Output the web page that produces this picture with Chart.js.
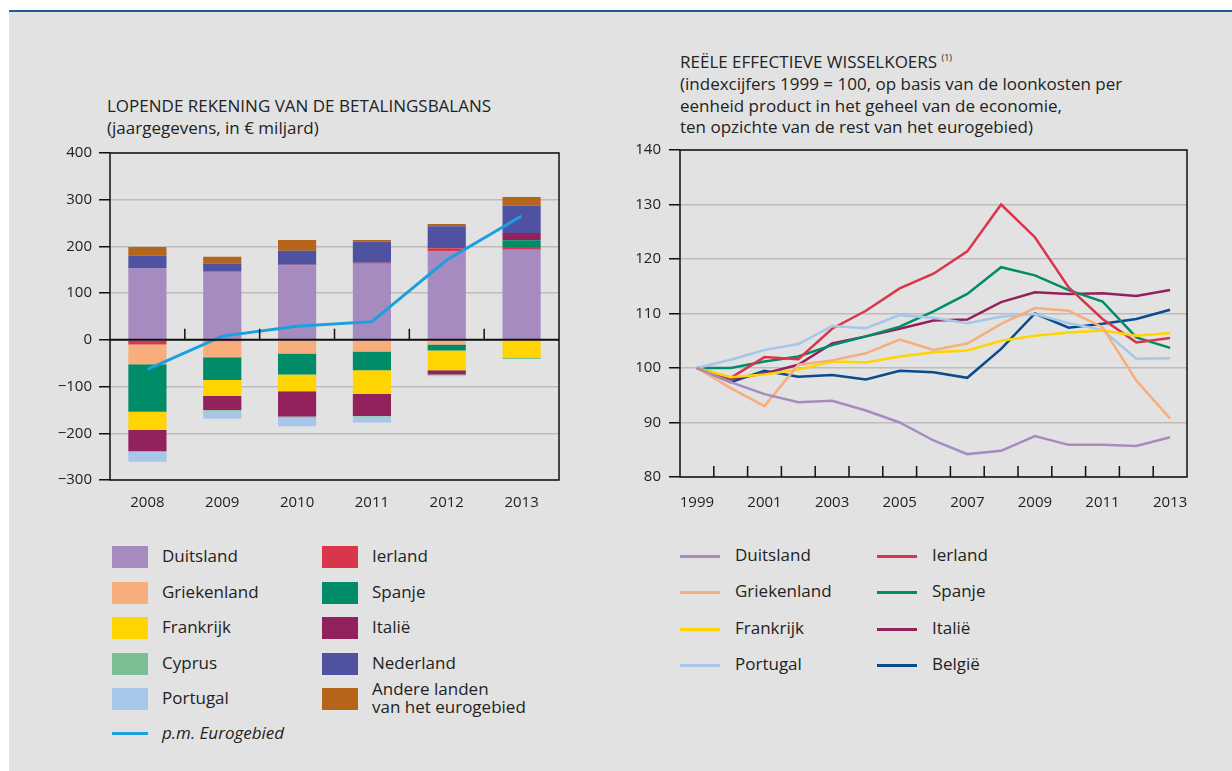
<!DOCTYPE html>
<html lang="nl">
<head>
<meta charset="UTF-8">
<title>Lopende rekening en reële effectieve wisselkoers</title>
<script src="https://cdn.jsdelivr.net/npm/chart.js"></script>
<style>
    body {
        margin: 0;
        width: 1232px;
        height: 771px;
        position: relative;
        overflow: hidden;
        background: #fff;
        font-family: "Open Sans", sans-serif;
        color: #222;
    }
    .panel {
        position: absolute;
        left: 9px; top: 10px; right: 0; bottom: 0;
        background: #e2e2e2;
        border-top: 2px solid #1f5a9a;
    }
    .title {
        position: absolute;
        font-size: 17px;
        line-height: 21.5px;
        white-space: nowrap;
    }
    .title sup { font-size: 9px; }
    .box { position: absolute; }
    .legend { position: absolute; font-size: 17px; }
    .item { position: absolute; white-space: nowrap; line-height: 18px; }
    .sw { position: absolute; width: 36px; height: 22px; }
    .ln { position: absolute; width: 40px; height: 3px; }
</style>
</head>
<body>
<div class="panel"></div>

<div class="title" style="left:107px; top:95px;">LOPENDE REKENING VAN DE BETALINGSBALANS<br>(jaargegevens, in € miljard)</div>
<div class="title" style="left:680px; top:47px;">REËLE EFFECTIEVE WISSELKOERS <sup>(1)</sup></div>
<div class="title" style="left:680px; top:73px;">(indexcijfers 1999 = 100, op basis van de loonkosten per<br>eenheid product in het geheel van de economie,<br>ten opzichte van de rest van het eurogebied)</div>

<div class="box" style="left:50px; top:137px; width:520px; height:393px;"><canvas id="balans"></canvas></div>
<div class="box" style="left:600px; top:133px; width:600px; height:385px;"><canvas id="koers"></canvas></div>

<div class="legend" id="legendLeft"></div>
<div class="legend" id="legendRight"></div>

<script>
// lopende rekening, € miljard
const years = ['2008', '2009', '2010', '2011', '2012', '2013'];
const duitsland = [153, 146, 159, 163, 189, 193];
const ierland = [-10, -3, 2, 2, 7, 6];
const griekenland = [-42, -34, -29, -25, -10, 0];
const spanje = [-102, -49, -45, -40, -13, 14];
const frankrijk = [-39, -34, -36, -51, -42, -39];
const italie = [-45, -30, -54, -47, -9, 16];
const cyprus = [-2, -2, -3, -1, -2, -2];
const portugal = [-21, -17, -18, -13, -2, 0];
const nederland = [27, 17, 30, 45, 47, 58];
const andere = [19, 15, 23, 4, 5, 19];
const eurogebied = [-63, 8, 29, 39, 171, 265];

// reële effectieve wisselkoers, 1999 = 100
const jaren = ['1999', '2000', '2001', '2002', '2003', '2004', '2005', '2006',
               '2007', '2008', '2009', '2010', '2011', '2012', '2013'];
const wkDuitsland = [100, 97.4, 95.2, 93.7, 94.0, 92.2, 90.0, 86.7, 84.2, 84.8, 87.5, 85.9, 85.9, 85.7, 87.3];
const wkGriekenland = [100, 96.3, 93.0, 100.6, 101.4, 102.7, 105.2, 103.3, 104.5, 108.1, 111.0, 110.5, 107.5, 97.7, 90.7];
const wkFrankrijk = [100, 98.3, 98.8, 99.7, 101.2, 101.0, 102.1, 102.9, 103.2, 105.0, 105.9, 106.5, 106.9, 105.9, 106.4];
const wkPortugal = [100, 101.5, 103.3, 104.4, 107.7, 107.3, 109.7, 109.2, 108.2, 109.4, 109.9, 108.2, 107.0, 101.7, 101.8];
const wkIerland = [100, 98.2, 102.0, 101.6, 107.2, 110.5, 114.6, 117.3, 121.4, 130.0, 124.0, 114.8, 109.0, 104.7, 105.5];
const wkSpanje = [100, 100.0, 101.2, 102.1, 104.2, 105.8, 107.6, 110.4, 113.6, 118.5, 117.0, 114.3, 112.2, 105.6, 103.7];
const wkItalie = [100, 98.0, 99.0, 100.6, 104.5, 105.8, 107.2, 108.7, 108.9, 112.1, 113.9, 113.6, 113.7, 113.2, 114.3];
const wkBelgie = [100, 97.4, 99.5, 98.4, 98.7, 97.9, 99.5, 99.2, 98.2, 103.5, 110.0, 107.4, 108.1, 109.0, 110.7];

const C = {
    duitsland: '#a68bc1', griekenland: '#f7ae7c', frankrijk: '#ffd400', cyprus: '#7dbf95',
    portugal: '#a6c6ea', ierland: '#d9364c', spanje: '#008c68', italie: '#93215c',
    nederland: '#4f52a0', andere: '#b5651a', euro: '#1a9fe0', belgie: '#0b4a8c'
};

Chart.defaults.font.family = '"Open Sans", sans-serif';
Chart.defaults.font.size = 15;
Chart.defaults.color = '#222';

// black frame, zero line and inward category ticks
const frame = {
    id: 'frame',
    afterDatasetsDraw(chart, args, opts) {
        const { ctx, chartArea: a, scales: { x, y } } = chart;
        ctx.save();
        ctx.strokeStyle = '#111';
        ctx.lineWidth = 1.5;
        ctx.strokeRect(a.left, a.top, a.right - a.left, a.bottom - a.top);
        let base = a.bottom;
        if (opts.zero) {
            base = y.getPixelForValue(0);
            ctx.lineWidth = 2;
            ctx.beginPath();
            ctx.moveTo(a.left, base);
            ctx.lineTo(a.right, base);
            ctx.stroke();
        }
        ctx.lineWidth = 1.5;
        ctx.beginPath();
        for (let i = 1; i < x.ticks.length; i++) {
            const px = (x.getPixelForTick(i - 1) + x.getPixelForTick(i)) / 2;
            ctx.moveTo(px, base);
            ctx.lineTo(px, base - 11);
        }
        ctx.stroke();
        ctx.restore();
    }
};

function bar(label, data, color) {
    return { type: 'bar', label: label, data: data, backgroundColor: color, stack: 'land', order: 1 };
}

new Chart(document.getElementById('balans'), {
    data: {
        labels: years,
        datasets: [
            { type: 'line', label: 'p.m. Eurogebied', data: eurogebied, borderColor: C.euro,
              borderWidth: 3, pointRadius: 0, tension: 0, stack: 'euro', order: 0 },
            bar('Duitsland', duitsland, C.duitsland),
            bar('Ierland', ierland, C.ierland),
            bar('Griekenland', griekenland, C.griekenland),
            bar('Spanje', spanje, C.spanje),
            bar('Frankrijk', frankrijk, C.frankrijk),
            bar('Italië', italie, C.italie),
            bar('Cyprus', cyprus, C.cyprus),
            bar('Portugal', portugal, C.portugal),
            bar('Nederland', nederland, C.nederland),
            bar('Andere landen van het eurogebied', andere, C.andere)
        ]
    },
    options: {
        responsive: true,
        maintainAspectRatio: false,
        animation: false,
        layout: { padding: { top: 12, right: 11, left: 0, bottom: 0 } },
        datasets: { bar: { categoryPercentage: 1, barPercentage: 0.51 } },
        plugins: { legend: { display: false }, tooltip: { enabled: false }, frame: { zero: true } },
        scales: {
            x: {
                stacked: true,
                grid: { display: false },
                border: { display: false },
                ticks: { padding: 6, maxRotation: 0 },
                afterFit(s) { s.height = 50; }
            },
            y: {
                stacked: true,
                min: -300, max: 400,
                ticks: { stepSize: 100, padding: 7, callback: v => String(v).replace('-', '\u2212') },
                grid: { color: '#bcbcbc', lineWidth: 1.5, tickColor: '#111', tickLength: 11 },
                border: { display: false },
                afterFit(s) { s.width = 60; }
            }
        }
    },
    plugins: [frame]
});

function line(label, data, color) {
    return { label: label, data: data, borderColor: color, borderWidth: 2.5, pointRadius: 0, tension: 0 };
}

new Chart(document.getElementById('koers'), {
    type: 'line',
    data: {
        labels: jaren,
        datasets: [
            line('Duitsland', wkDuitsland, C.duitsland),
            line('Griekenland', wkGriekenland, C.griekenland),
            line('Frankrijk', wkFrankrijk, C.frankrijk),
            line('Portugal', wkPortugal, C.portugal),
            line('Ierland', wkIerland, C.ierland),
            line('Spanje', wkSpanje, C.spanje),
            line('Italië', wkItalie, C.italie),
            line('België', wkBelgie, C.belgie)
        ]
    },
    options: {
        responsive: true,
        maintainAspectRatio: false,
        animation: false,
        layout: { padding: { top: 12, right: 13, left: 0, bottom: 0 } },
        plugins: { legend: { display: false }, tooltip: { enabled: false }, frame: { zero: false } },
        scales: {
            x: {
                offset: true,
                grid: { display: false },
                border: { display: false },
                ticks: { padding: 9, maxRotation: 0, autoSkip: false,
                         callback: (v, i) => i % 2 === 0 ? jaren[i] : '' },
                afterFit(s) { s.height = 41; }
            },
            y: {
                min: 80, max: 140,
                ticks: { stepSize: 10, padding: 8 },
                grid: { color: '#bcbcbc', lineWidth: 1.5, tickColor: '#111', tickLength: 11 },
                border: { display: false },
                afterFit(s) { s.width = 80; }
            }
        }
    },
    plugins: [frame]
});

// legends
const leftItems = [
    ['Duitsland', C.duitsland, 0, 0], ['Griekenland', C.griekenland, 0, 1], ['Frankrijk', C.frankrijk, 0, 2],
    ['Cyprus', C.cyprus, 0, 3], ['Portugal', C.portugal, 0, 4],
    ['Ierland', C.ierland, 1, 0], ['Spanje', C.spanje, 1, 1], ['Italië', C.italie, 1, 2],
    ['Nederland', C.nederland, 1, 3], ['Andere landen<br>van het eurogebied', C.andere, 1, 4]
];
const rightItems = [
    ['Duitsland', C.duitsland, 0, 0], ['Griekenland', C.griekenland, 0, 1], ['Frankrijk', C.frankrijk, 0, 2],
    ['Portugal', C.portugal, 0, 3],
    ['Ierland', C.ierland, 1, 0], ['Spanje', C.spanje, 1, 1], ['Italië', C.italie, 1, 2], ['België', C.belgie, 1, 3]
];

let html = '';
leftItems.forEach(([t, c, col, row]) => {
    const x = 112 + col * 210, y = 557 + row * 35.6;
    html += `<div class="sw" style="left:${x}px; top:${y - 11}px; background:${c}"></div>`;
    const lines = t.includes('<br>') ? 2 : 1;
    html += `<div class="item" style="left:${x + 50}px; top:${y - 9 * lines - 1}px;">${t}</div>`;
});
html += `<div class="ln" style="left:112px; top:732px; width:36px; background:${C.euro}"></div>`;
html += `<div class="item" style="left:162px; top:724px; font-style:italic;">p.m. Eurogebied</div>`;
document.getElementById('legendLeft').innerHTML = html;

html = '';
rightItems.forEach(([t, c, col, row]) => {
    const x = 680 + col * 197, y = 556 + row * 36.3;
    html += `<div class="ln" style="left:${x}px; top:${y - 1}px; background:${c}"></div>`;
    html += `<div class="item" style="left:${x + 55}px; top:${y - 10}px;">${t}</div>`;
});
document.getElementById('legendRight').innerHTML = html;
</script>
</body>
</html>
